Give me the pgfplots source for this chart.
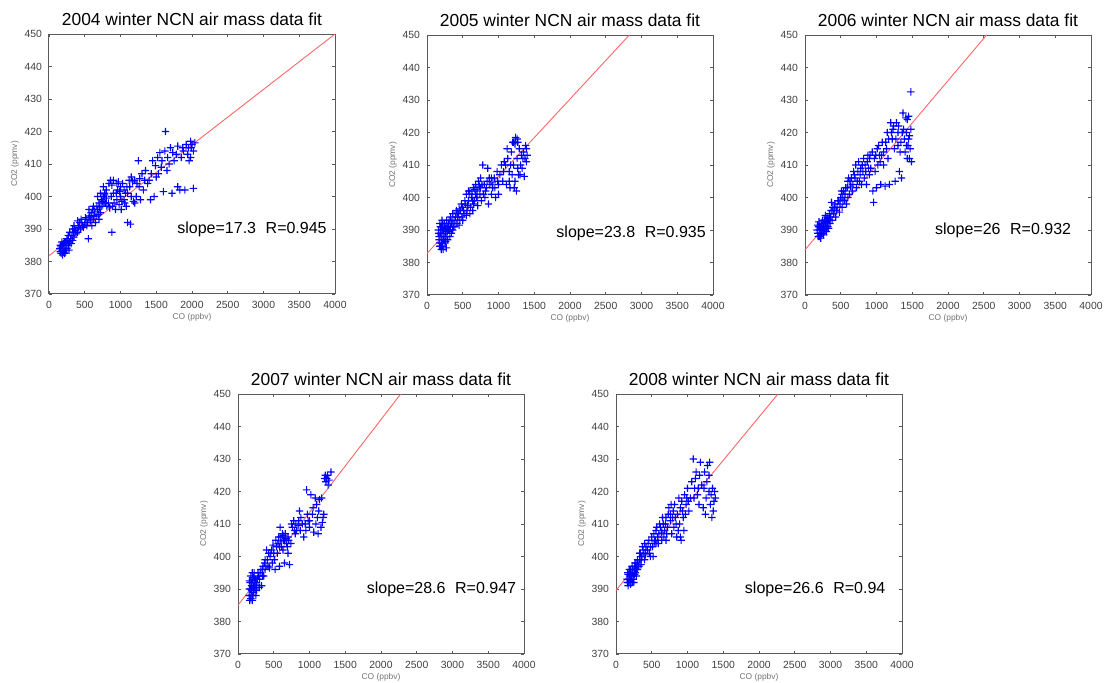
\documentclass[border=0pt]{standalone}
\usepackage{fontspec}
\setmainfont{Liberation Sans}
\usepackage{pgfplots}
\pgfplotsset{compat=1.18}
\pgfdeclareplotmark{bplus}{%
  \pgfsetfillcolor{blue}%
  \pgfpathrectangle{\pgfqpoint{-1.85pt}{-0.28pt}}{\pgfqpoint{3.7pt}{0.56pt}}%
  \pgfpathrectangle{\pgfqpoint{-0.28pt}{-1.85pt}}{\pgfqpoint{0.56pt}{3.7pt}}%
  \pgfusepathqfill}
\tikzset{stat/.style={anchor=west, inner sep=0pt, font=\fontsize{8}{9}\selectfont}}
\pgfplotsset{myax/.style={
  scale only axis, width=143pt, height=130pt,
  xmin=0, xmax=4000, ymin=370, ymax=450,
  xtick={0,500,...,4000}, ytick={370,380,...,450},
  tick align=inside, major tick length=1.5pt,
  axis line style={black!65, line width=0.5pt},
  tick style={black!65, line width=0.4pt},
  ticklabel style={font=\fontsize{5.2}{6}\selectfont, text=black!75},
  scaled ticks=false,
  /pgf/number format/assume math mode=true,
  /pgf/number format/1000 sep={},
  xlabel={CO (ppbv)}, ylabel={CO2 (ppmv)},
  every axis x label/.style={at={(axis description cs:0.5,-0.088)}, anchor=center, font=\fontsize{4.2}{5}\selectfont, text=black!55},
  every axis y label/.style={at={(axis description cs:-0.119,0.5)}, anchor=center, rotate=90, font=\fontsize{4.2}{5}\selectfont, text=black!55},
  every axis title/.style={at={(axis description cs:0.5,1)}, anchor=base, yshift=4.5pt, font=\fontsize{8.7}{10}\selectfont},
  clip=false},
  scat/.style={only marks, mark=bplus, color=blue, mark options={fill=blue, draw=none, solid}},
  fit/.style={color=red!60, line width=0.45pt, no marks}
}
\begin{document}
\begin{tikzpicture}
\path[use as bounding box] (0,0) rectangle (554.5pt,-341pt);
% ---------------- 2004
\begin{axis}[myax, at={(24.5pt,-17pt)}, anchor=north west, title={2004 winter NCN air mass data fit}]
\addplot[scat] coordinates {
(150,384) (160,383) (170,382.5) (180,383.5) (190,382) (200,383) (210,384) (220,382.5) (230,383.5) (240,385)
(160,385) (180,386) (200,385.5) (220,386) (250,384) (260,386.5) (270,385) (280,383.5) (290,386) (300,387)
(310,385.5) (320,388) (330,386.5) (340,389) (350,387.5) (360,390) (380,388.5) (400,389) (420,391) (440,390)
(460,392) (480,390.5) (500,391.5) (520,393) (540,392) (550,387) (560,393.5) (580,392.5) (600,394) (620,393)
(640,395.5) (660,394) (680,396) (700,398) (720,395) (740,397) (760,400) (770,398) (780,401) (800,399.5)
(810,397) (830,398) (850,396.5) (860,405) (880,403.5) (880,389) (900,401) (910,398) (930,396) (950,399)
(960,402) (980,397.5) (1000,400) (1010,396) (1030,404) (1050,402) (1060,398) (1080,397) (1100,392) (1120,405)
(1140,391.5) (1150,406) (1170,404.5) (1200,405) (1220,400) (1250,411) (1260,403) (1280,399) (1300,407) (1320,402)
(1350,408) (1380,404) (1400,405) (1420,399) (1450,411) (1470,400) (1500,406) (1520,412) (1550,413.5) (1570,409)
(1600,401.5) (1620,414) (1630,420) (1650,408) (1680,410) (1700,415) (1720,401) (1750,411) (1780,413) (1800,415.5)
(1800,403) (1830,402) (1850,412) (1880,414) (1900,402) (1920,416) (1950,415) (1980,417) (2000,416) (2020,414)
(2020,402.5) (1980,412) (1960,411) (1940,413) (600,391) (650,392) (700,393) (560,396) (620,397) (680,400)
(720,401) (760,403) (800,402) (840,404) (900,405) (950,404) (1000,403) (1050,399) (1100,401) (1150,400)
(1200,398) (350,391) (400,392.5) (450,393) (780,400.5) (790,398) (1020,398.5) (1090,403)
(170,384.5) (190,385) (210,382.8) (230,386) (250,387) (270,388) (290,389) (330,390) (370,389.5) (410,390.5)
(430,392) (470,391) (510,393.5) (530,391) (570,394) (590,395) (610,396) (630,394) (670,397) (690,394.5)
(710,396.5) (730,399) (750,398.5) (870,400) (890,397) (940,401) (970,404.5) (990,401.5) (1070,401) (1130,403)
(1180,398.5) (1230,404) (1270,405.5) (1340,405) (1430,407) (1490,409.5) (1530,407) (1580,411) (1660,412) (1730,413.5)
(1870,415) (1990,415) (2040,416.5)
};
\addplot[fit] coordinates {(0,381.8) (4000,450)};
\node[stat] at (axis cs:1790,390) {slope=17.3\hspace{0.6em}R=0.945};
\end{axis}
% ---------------- 2005
\begin{axis}[myax, at={(213.5pt,-17.5pt)}, anchor=north west, title={2005 winter NCN air mass data fit}]
\addplot[scat] coordinates {
(170,388) (180,386) (190,389) (200,384) (210,387) (220,385) (230,390) (240,388) (250,386) (200,391)
(180,392) (160,390) (170,387) (220,392) (260,389) (270,384.5) (280,391) (290,387) (300,390) (310,393)
(320,388) (330,391) (340,389) (350,392.5) (360,390) (380,393) (400,394) (420,392) (440,395) (450,391.5)
(470,396) (490,394) (500,397) (520,395) (540,398) (550,401) (560,396) (580,399) (600,402) (610,397)
(620,400) (640,396) (650,403) (660,399) (680,404) (700,402) (710,397.5) (720,405) (740,401) (750,403)
(760,399) (780,410) (800,404) (810,400) (820,402) (840,405) (860,398) (880,404) (900,401) (920,403)
(940,406) (960,400) (980,408) (1000,404) (1020,407) (1040,410) (1060,405) (1080,411) (1100,410) (1110,404)
(1130,412) (1150,408) (1160,403) (1180,414) (1200,417) (1210,410) (1220,403) (1240,418.5) (1250,402) (1260,412)
(1270,417) (1280,407) (1290,415) (1300,407) (1310,410) (1320,413) (1340,412) (1350,414) (1360,406.5) (1380,416)
(1390,411) (1400,413) (600,395) (650,398) (700,400) (550,394.5) (500,393) (450,396.5) (750,406) (850,409)
(1230,416.5) (1210,417) (1260,418) (190,385) (210,393) (240,391) (260,386.5) (300,392) (330,394) (370,391)
(420,395.5) (480,398) (530,399) (580,402) (630,401) (680,401) (730,403.5) (900,406) (1000,401) (1150,405)
(165,389) (175,385) (185,391) (195,388.5) (205,386) (215,390) (225,384) (235,387) (245,392) (255,390.5)
(265,388) (275,393) (285,389.5) (295,391.5) (315,390) (340,392) (360,395) (390,391) (410,396) (430,394)
(460,393) (510,396) (570,397.5) (590,401) (640,399) (670,402.5) (690,400) (770,404) (790,401) (830,403)
(870,406) (910,404.5) (950,403) (990,405) (1070,408) (1120,415) (1170,410) (1190,407) (1230,405) (1270,409)
(1330,409) (1370,412) (1390,415)
};
\addplot[fit] coordinates {(0,382.8) (2830,450)};
\node[stat] at (axis cs:1805,389) {slope=23.8\hspace{0.6em}R=0.935};
\end{axis}
% ---------------- 2006
\begin{axis}[myax, at={(402.5pt,-17.5pt)}, anchor=north west, title={2006 winter NCN air mass data fit}]
\addplot[scat] coordinates {
(170,390) (180,389) (190,391) (200,388) (210,390) (220,387.5) (230,392) (240,389) (250,391) (260,388.5)
(270,393) (280,390) (290,392) (300,389.5) (310,394) (320,391) (330,393) (340,395) (350,392) (360,394)
(370,398.5) (380,396) (400,395) (420,398) (430,394) (450,397) (470,399) (480,395.5) (500,400) (520,397)
(540,402) (550,399) (570,403) (580,398) (600,405) (620,401) (640,403.5) (650,406) (670,404) (680,408)
(700,406) (710,410) (720,403) (740,408) (750,411) (760,405) (780,409) (790,404) (800,410) (820,412)
(830,406) (850,408) (870,411) (880,413) (900,412) (920,409) (940,414) (950,402) (960,398.5) (970,412)
(990,413) (1000,403) (1010,415) (1030,416) (1050,411) (1060,404) (1080,417) (1100,414) (1120,403.5) (1130,417)
(1150,420) (1160,412) (1180,404) (1200,423) (1220,418) (1240,422) (1250,415) (1260,405) (1280,423) (1300,416)
(1320,408) (1340,417) (1350,406) (1370,426) (1380,421) (1390,418) (1400,414) (1420,420) (1430,424) (1440,416)
(1450,425) (1460,412) (1470,415) (1480,432.5) (1490,411) (1460,419) (1410,424.5) (1230,421) (1100,410) (200,391)
(230,389) (260,392) (300,393) (330,390.5) (380,393) (440,396) (520,401) (600,400) (660,402) (730,405)
(860,404) (900,407) (1040,413) (1300,420) (1330,414) (1430,412)
(175,391.5) (185,388) (195,392.5) (205,389) (215,391) (225,388.5) (235,390.5) (245,393) (255,390) (265,391.5)
(285,394.5) (305,391) (315,392.5) (345,393) (365,396) (390,397) (410,396.5) (460,399) (490,398) (510,402)
(530,399.5) (560,401) (590,403) (610,406) (630,405) (690,407) (770,407) (810,408) (840,410) (890,409)
(910,413) (980,408) (1020,410) (1070,413) (1140,415) (1170,418) (1210,420) (1270,418) (1310,422) (1360,420)
(1420,416) (1450,418) (1480,421)
};
\addplot[fit] coordinates {(0,383.9) (2540,450)};
\node[stat] at (axis cs:1815,390) {slope=26\hspace{0.6em}R=0.932};
\end{axis}
% ---------------- 2007
\begin{axis}[myax, at={(119pt,-197pt)}, anchor=north west, title={2007 winter NCN air mass data fit}]
\addplot[scat] coordinates {
(160,390) (170,388) (180,387) (190,389.5) (200,386.5) (210,391) (220,389) (230,393) (240,390) (250,388)
(170,392) (180,394) (200,395) (220,393.5) (260,391.5) (280,395) (300,393) (320,396) (330,391) (350,397)
(360,394) (380,399) (400,402) (420,397) (440,396.5) (450,400) (480,398) (500,401) (520,396) (540,403)
(550,401) (560,404) (580,397) (600,406) (610,403) (620,407) (640,405) (650,398) (660,407) (680,404)
(700,406) (720,397.5) (740,404) (760,409) (780,411) (800,407) (820,408) (840,409.5) (860,414) (880,412)
(900,410) (920,406) (950,408) (960,420.5) (980,411) (1000,409) (1020,419) (1040,413) (1060,407.5) (1080,418)
(1100,416) (1120,407) (1140,417.5) (1160,409) (1180,410.5) (1200,413) (1210,424) (1230,423) (1250,425) (1270,423.5)
(1300,426) (1190,412) (1110,412) (160,392.5) (190,391) (210,388) (240,392) (270,393) (300,390.5) (340,394)
(380,396) (460,401) (580,403) (630,402) (700,401) (590,409) (650,405) (1000,411)
(155,388) (165,386.5) (175,390) (185,392) (195,388) (205,393) (215,390.5) (225,395) (235,391) (245,393)
(255,389.5) (290,394) (310,395) (340,396) (370,398) (390,397) (410,399) (430,401) (470,402) (490,403.5)
(510,399) (530,405) (570,406) (600,404.5) (630,406.5) (670,405.5) (690,403) (710,405) (750,410) (790,408)
(810,410) (850,411) (870,408) (940,410) (970,413) (1050,415) (1090,410) (1130,414) (1170,418) (1220,425)
(1240,424) (1260,422)
};
\addplot[fit] coordinates {(0,385) (2275,450)};
\node[stat] at (axis cs:1796,390) {slope=28.6\hspace{0.6em}R=0.947};
\end{axis}
% ---------------- 2008
\begin{axis}[myax, at={(308pt,-197pt)}, anchor=north west, title={2008 winter NCN air mass data fit}]
\addplot[scat] coordinates {
(160,392) (170,391) (180,393) (190,394) (200,392.5) (210,395) (220,393) (230,396) (240,394) (250,392)
(260,397) (270,395) (280,398) (290,396) (300,399) (320,397) (340,401) (360,400) (380,402) (400,399)
(420,403) (440,402) (460,405) (480,403) (500,406) (520,400) (540,404.5) (560,408) (580,406) (600,407)
(620,409) (640,405) (660,410) (680,408) (700,412) (720,409) (740,415) (760,411) (780,407) (800,414)
(820,416) (840,410) (850,406) (860,413) (880,418) (900,415) (910,405) (920,417) (940,412) (960,419)
(980,416) (1000,421) (1020,414) (1040,418) (1060,423) (1080,430) (1100,421) (1120,426) (1140,419) (1160,416)
(1180,429) (1200,422) (1220,415) (1240,426) (1260,418) (1280,428) (1300,420) (1310,429) (1320,416) (1340,412)
(1350,421) (1360,414) (1380,420) (1390,418) (900,406) (950,408) (870,408) (1300,425) (1250,413) (1150,421)
(170,394.5) (200,396) (230,392) (260,394.5) (300,396) (330,399) (350,397.5) (400,404) (480,400) (560,404)
(640,407.5) (700,405) (760,413) (830,412)
(155,393) (165,395) (175,392) (185,396) (195,393) (205,391.5) (215,394) (225,397) (235,395) (245,393)
(255,396) (265,398) (275,396.5) (285,394) (310,397.5) (330,401) (350,399) (370,403) (390,401) (410,400.5)
(450,404) (470,401) (510,403) (530,407) (550,405) (570,409) (590,404) (610,410) (650,412) (670,406)
(690,410) (710,407) (730,413) (770,416) (790,412) (810,409) (890,410) (930,414) (970,413) (990,418)
(1010,417) (1090,418) (1110,424) (1170,425) (1230,421) (1270,423) (1330,419) (1370,417)
};
\addplot[fit] coordinates {(0,389.6) (2265,450)};
\node[stat] at (axis cs:1798,390) {slope=26.6\hspace{0.6em}R=0.94};
\end{axis}
\end{tikzpicture}
\end{document}
